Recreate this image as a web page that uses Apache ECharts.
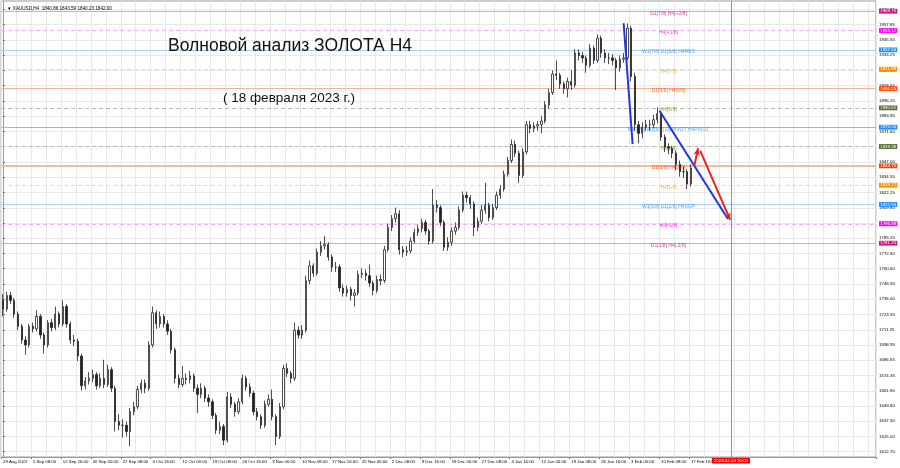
<!DOCTYPE html>
<html><head><meta charset="utf-8">
<script src="https://cdn.jsdelivr.net/npm/echarts@6/dist/echarts.min.js"></script>
<style>html,body{margin:0;padding:0;background:#fff}#c{width:900px;height:468px}</style>
</head><body><div id="c"></div>
<script>
// ---- data ----
const symbolInfo = '\u25BC XAUUSD,H4  1840.86 1843.59 1840.23 1842.00';
const titleText = 'Волновой анализ ЗОЛОТА H4';
const subtitleText = '( 18 февраля 2023 г.)';
const xLabels = ['29 Aug 2022','5 Sep 08:00','12 Sep 16:00','20 Sep 00:00','27 Sep 08:00','4 Oct 16:00','12 Oct 00:00','19 Oct 08:00','26 Oct 16:00','3 Nov 00:00','10 Nov 08:00','17 Nov 16:00','25 Nov 00:00','2 Dec 08:00','9 Dec 16:00','19 Dec 00:00','27 Dec 08:00','4 Jan 16:00','12 Jan 00:00','19 Jan 08:00','26 Jan 16:00','3 Feb 00:00','10 Feb 08:00','17 Feb 16:00'];
const cursorLabel = '2023.02.24 20:00';
const cursorPos = 194.7;
const yTicks = [1612.70,1625.00,1637.30,1649.60,1661.90,1674.35,1686.65,1698.95,1711.25,1723.55,1736.00,1748.30,1760.60,1772.90,1785.20,1797.50,1809.80,1822.25,1834.55,1847.00,1859.30,1871.60,1883.90,1896.20,1908.65,1920.95,1933.25,1945.55,1957.85,1970.25];
const openP = [1735,1728,1739,1735,1724,1714,1703,1699,1714,1712,
1722,1707,1699,1717,1713,1724,1716,1730,1716,1703,
1702,1690,1666,1670,1672,1675,1666,1672,1667,1679,
1664,1637,1634,1634,1629,1645,1649,1663,1668,1664,
1699,1725,1716,1722,1716,1710,1695,1672,1667,1672,
1671,1674,1664,1659,1664,1656,1653,1642,1630,1633,
1622,1657,1651,1645,1653,1672,1665,1660,1645,1641,
1634,1651,1655,1641,1625,1649,1680,1676,1672,1711,
1707,1711,1751,1763,1757,1774,1779,1780,1770,1762,
1762,1745,1741,1744,1739,1741,1756,1757,1755,1749,
1743,1752,1751,1776,1794,1801,1805,1776,1774,1775,
1783,1790,1793,1798,1791,1783,1812,1810,1798,1778,
1782,1791,1794,1808,1820,1818,1813,1794,1799,1808,
1812,1802,1810,1820,1825,1837,1848,1861,1854,1836,
1855,1877,1874,1876,1877,1880,1893,1903,1918,1917,
1910,1906,1912,1909,1935,1933,1931,1925,1939,1929,
1947,1935,1931,1931,1929,1923,1930,1931,1955,1916,
1877,1870,1875,1877,1877,1881,1886,1867,1859,1858,
1854,1845,1839,1839,1829];
const closeP = [1728,1739,1735,1724,1714,1703,1699,1714,1712,1722,
1707,1699,1717,1713,1724,1716,1730,1716,1703,1702,
1690,1666,1670,1672,1675,1666,1672,1667,1679,1664,
1637,1634,1634,1629,1645,1649,1663,1668,1664,1699,
1725,1716,1722,1716,1710,1695,1672,1667,1672,1671,
1674,1664,1659,1664,1656,1653,1642,1630,1633,1622,
1657,1651,1645,1653,1672,1665,1660,1645,1641,1634,
1651,1655,1641,1625,1649,1680,1676,1672,1711,1707,
1711,1751,1763,1757,1774,1779,1780,1770,1762,1762,
1745,1741,1744,1739,1741,1756,1757,1755,1749,1743,
1752,1751,1776,1794,1801,1805,1776,1774,1775,1783,
1790,1793,1798,1791,1783,1812,1810,1798,1778,1782,
1791,1794,1808,1820,1818,1813,1794,1799,1808,1812,
1802,1810,1820,1825,1837,1848,1861,1854,1836,1855,
1877,1874,1876,1877,1880,1893,1903,1918,1917,1910,
1906,1912,1909,1935,1933,1931,1925,1939,1929,1947,
1935,1931,1931,1929,1923,1930,1931,1955,1916,1877,
1870,1875,1877,1877,1881,1886,1867,1859,1858,1854,
1845,1839,1839,1829,1842];
const highP = [1740,1742,1742,1737,1726,1716,1706,1716,1717,1727,
1724,1709,1719,1720,1730,1726,1735,1732,1718,1707,
1704,1692,1673,1677,1679,1677,1676,1687,1683,1681,
1666,1643,1639,1637,1648,1653,1666,1671,1671,1702,
1730,1727,1726,1724,1719,1712,1697,1675,1682,1676,
1678,1676,1667,1668,1666,1659,1655,1644,1637,1635,
1661,1660,1653,1656,1675,1674,1668,1662,1648,1643,
1654,1659,1663,1643,1652,1683,1684,1678,1717,1714,
1715,1755,1767,1765,1777,1783,1787,1782,1772,1766,
1764,1748,1747,1746,1744,1759,1761,1760,1764,1751,
1755,1756,1779,1797,1804,1810,1808,1779,1779,1786,
1793,1796,1801,1800,1793,1825,1816,1812,1800,1786,
1794,1798,1811,1823,1823,1820,1815,1802,1812,1830,
1814,1813,1823,1828,1840,1851,1865,1864,1856,1858,
1880,1880,1879,1880,1884,1896,1906,1921,1929,1919,
1912,1915,1921,1938,1938,1936,1933,1942,1941,1950,
1949,1938,1935,1934,1931,1933,1935,1959,1957,1919,
1880,1879,1881,1881,1885,1891,1888,1869,1862,1860,
1856,1848,1843,1841,1845];
const lowP = [1722,1726,1732,1721,1711,1700,1691,1697,1709,1710,
1704,1692,1697,1710,1711,1713,1714,1713,1700,1698,
1686,1662,1663,1667,1669,1663,1664,1664,1665,1661,
1629,1630,1624,1625,1617,1642,1647,1660,1660,1662,
1697,1712,1713,1713,1707,1692,1668,1664,1665,1667,
1668,1661,1644,1656,1653,1649,1639,1627,1627,1618,
1620,1648,1641,1643,1651,1662,1657,1642,1638,1631,
1632,1649,1638,1618,1623,1647,1673,1668,1670,1704,
1704,1709,1748,1754,1755,1771,1776,1767,1758,1758,
1742,1738,1738,1735,1730,1739,1753,1751,1746,1739,
1741,1747,1749,1774,1791,1798,1772,1770,1771,1773,
1781,1787,1790,1788,1780,1781,1806,1795,1775,1775,
1779,1788,1792,1806,1814,1809,1787,1791,1797,1805,
1799,1800,1808,1817,1823,1835,1846,1851,1830,1834,
1853,1870,1871,1872,1870,1878,1890,1901,1913,1906,
1902,1899,1905,1907,1929,1927,1919,1923,1926,1927,
1931,1927,1926,1925,1905,1920,1927,1929,1912,1872,
1862,1866,1872,1872,1874,1878,1864,1855,1853,1850,
1840,1835,1834,1825,1827];
const levelPrices = [1968.75,1953.12,1937.50,1921.88,1906.25,1890.62,1875.00,1859.38,1843.75,1828.12,1812.50,1796.88,1781.25];
const levelNames = ['D1[7/8] H4[+2/8]','H4[+1/8]','W1[7/8] D1[6/8] H4RES','H4[7/8]','D1[5/8] H4[6/8]','H4[5/8]','MN[7/8] W1[6/8] D1PIVOT H4PIVOT','H4[3/8]','D1[3/8] H4[2/8]','H4[1/8]','W1[5/8] D1[2/8] H4SUP','H4[-1/8]','D1[1/8] H4[-2/8]'];
const blueWaves = [[[166.0,1959.0],[168.4,1861.4]],[[175.6,1888.3],[193.9,1800.8]]];
const redWaves = [[[184.9,1843.6],[185.9,1858.0]],[[186.5,1855.8],[194.5,1800.0]]];

// ---- styles ----
const levelLineColors = ['#eb9acb','#f7aaf7','#a8d0f7','#f9d5a3','#f7b09a','#bdbda5','#86baf3','#bdbda5','#f9b89c','#f9d5a3','#a8d0f7','#f7aaf7','#eb9acb'];
const levelBoxColors = ['#c71585','#ff00ff','#1e90ff','#ff8c00','#ff4500','#556b2f','#1e90ff','#556b2f','#ff4500','#ff8c00','#1e90ff','#ff00ff','#c71585'];
const levelTextColors = ['#c71585','#ff00ff','#1e90ff','#ffa500','#ff4500','#6b8e23','#1e90ff','#6b8e23','#ff4500','#ffa500','#1e90ff','#ff00ff','#c71585'];
const levelDashed = [false,true,false,true,false,true,false,true,false,true,false,true,false];
const levelWidth = [1,1,1,1,1,1,1,1,2,1,1,1,1];
const SLOTS = 234;
const LABEL_X = 178;
const smallFont = 'Liberation Sans';

const chart = echarts.init(document.getElementById('c'), null, {renderer:'canvas'});
const candles = openP.map((o,i)=>[o, closeP[i], lowP[i], highP[i]]);
const cats = Array.from({length:SLOTS}, (_, i) => String(i));

chart.setOption({
  animation:false,
  backgroundColor:'#ffffff',
  title:[
    {text:symbolInfo, left:2, top:1, textStyle:{fontSize:4.6, fontWeight:'normal', color:'#000', fontFamily:smallFont}},
    {text:titleText, left:163, top:32, textStyle:{fontSize:17.5, fontWeight:'normal', color:'#111', fontFamily:'Liberation Sans'}},
    {text:subtitleText, left:218, top:86, textStyle:{fontSize:13.5, fontWeight:'normal', color:'#111', fontFamily:'Liberation Sans'}}
  ],
  grid:{left:0, right:24, top:1, bottom:11, show:true, borderColor:'#9a9a9a', borderWidth:1, backgroundColor:'#fff'},
  xAxis:[{
    type:'category', data:cats, boundaryGap:true,
    axisLine:{show:true, lineStyle:{color:'#9a9a9a'}},
    axisTick:{show:true, length:2, interval:(i)=> i%8===0 && i/8 < xLabels.length, lineStyle:{color:'#777'}},
    axisLabel:{show:true, interval:(i)=> i%8===0 && i/8 < xLabels.length, formatter:(v,i)=>xLabels[i/8] || '', align:'left', fontSize:4.3, color:'#000', margin:3, fontFamily:smallFont},
    splitLine:{show:true, interval:3, lineStyle:{color:'#e8e8e8', width:1}}
  },{
    type:'value', min:-0.5, max:SLOTS-0.5, show:false
  }],
  yAxis:{
    type:'value', position:'right', min:1608.4, max:1977.0, scale:true,
    axisLine:{show:true, lineStyle:{color:'#9a9a9a'}},
    axisTick:{show:true, length:2, customValues:yTicks, lineStyle:{color:'#777'}},
    axisLabel:{customValues:yTicks, formatter:(v)=>v.toFixed(2), fontSize:4.4, color:'#000', margin:3, fontFamily:smallFont},
    splitLine:{show:true, lineStyle:{color:'#e8e8e8', width:1}}
  },
  series:[
    {
      type:'scatter', xAxisIndex:1, yAxisIndex:0, z:1, symbolSize:0, silent:true,
      data: levelPrices.map((p,i)=>({value:[LABEL_X, p], label:{show:true, position:'inside', offset:[0,2], formatter:levelNames[i], color:levelTextColors[i], fontSize:5, fontFamily:smallFont}})),
      markLine:{
        silent:true, symbol:'none', z:1, animation:false,
        data: levelPrices.map((p,i)=>({
          yAxis:p,
          lineStyle:{color:levelLineColors[i], width:levelWidth[i], type:levelDashed[i]?[4,3]:'solid'},
          label:{show:true, position:'end', distance:3, formatter:p.toFixed(2), color:'#fff', backgroundColor:levelBoxColors[i], padding:[0.6,1.2,0.2,1.2], fontSize:4.4, fontFamily:smallFont}
        }))
      }
    },
    {
      type:'candlestick', xAxisIndex:0, yAxisIndex:0, z:3, data:candles, barWidth:1.8,
      itemStyle:{color:'#ffffff', color0:'#222222', borderColor:'#222222', borderColor0:'#222222', borderWidth:0.8}
    },
    {
      type:'scatter', xAxisIndex:1, yAxisIndex:0, z:5, data:[], silent:true,
      markLine:{
        silent:true, z:6, animation:false, symbol:['none','none'],
        data:[
          ...blueWaves.map(w=>[{coord:w[0], lineStyle:{color:'#1f35e6', width:2, type:'solid'}},{coord:w[1]}]),
          ...redWaves.map(w=>[{coord:w[0], symbol:'none', lineStyle:{color:'#f02020', width:2, type:'solid'}},{coord:w[1], symbol:'arrow', symbolSize:[5,7]}])
        ],
        label:{show:false}
      }
    },
    {
      type:'scatter', xAxisIndex:1, yAxisIndex:0, z:4, data:[], silent:true,
      markLine:{
        silent:true, z:4, animation:false, symbol:['none','none'],
        lineStyle:{color:'#ff6464', width:1, type:'solid', opacity:1},
        label:{show:true, position:'start', distance:1, formatter:cursorLabel, color:'#fff', backgroundColor:'#ff0000', padding:[1,2,0.5,2], fontSize:4.4, fontFamily:smallFont},
        data:[ {xAxis:cursorPos} ]
      }
    }
  ]
});
</script></body></html>
